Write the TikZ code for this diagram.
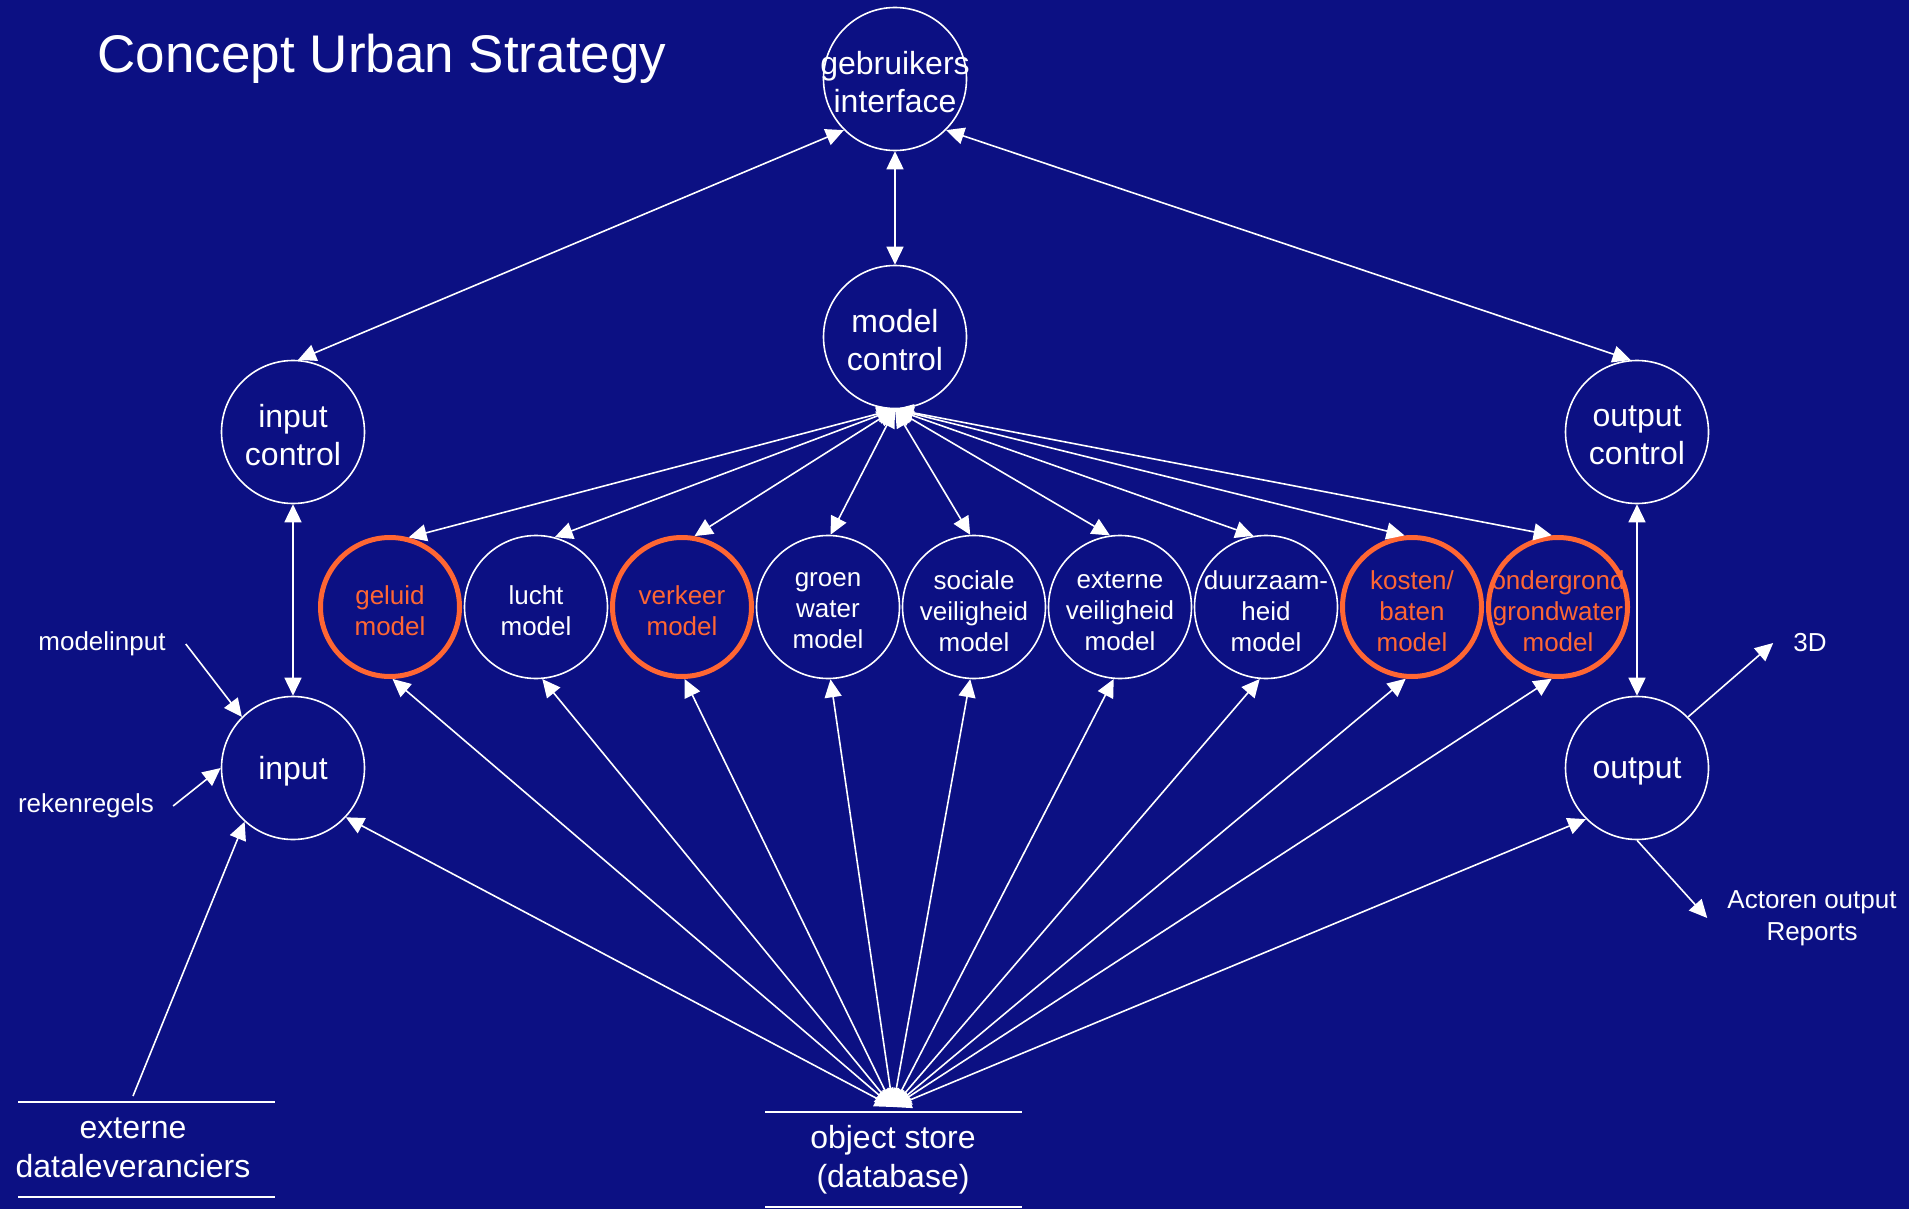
\documentclass[tikz,border=0pt]{standalone}
\usepackage{fontspec}
\setmainfont{Liberation Sans}
\usetikzlibrary{arrows.meta}
\definecolor{bgblue}{RGB}{12,16,131}
\definecolor{hiorange}{RGB}{255,102,51}
\begin{document}
\begin{tikzpicture}[x=1pt,y=-1pt,
  bignode/.style={circle,draw=white,line width=1.6pt,minimum size=143pt,inner sep=0pt},
  bigtext/.style={text=white,align=center,inner sep=0pt,yshift=-3pt,font=\fontsize{32}{38}\selectfont},
  modelnode/.style={circle,draw=white,line width=1.6pt,minimum size=143pt,inner sep=0pt},
  hinode/.style={circle,draw=hiorange,line width=5pt,minimum size=139pt,inner sep=0pt},
  modeltext/.style={text=white,align=center,inner sep=0pt,yshift=-4pt,font=\fontsize{26}{31}\selectfont},
  hitext/.style={modeltext,text=hiorange},
  conn/.style={draw=white,line width=1.6pt,-{Triangle[length=18pt,width=17pt]}},
  biconn/.style={draw=white,line width=1.6pt,{Triangle[length=18pt,width=17pt]}-{Triangle[length=18pt,width=17pt]}},
  lbl/.style={text=white,align=center,font=\fontsize{26}{32}\selectfont,inner sep=0pt},
  biglbl/.style={text=white,align=center,font=\fontsize{32}{39}\selectfont,inner sep=0pt},
  rulestyle/.style={draw=white,line width=2pt}]
\fill[bgblue] (0,0) rectangle (1909,1209);
\useasboundingbox (0,0) rectangle (1909,1209);

\node[text=white,font=\fontsize{53}{60}\selectfont,inner sep=0pt] (title) at (382,59) {Concept Urban Strategy};

\node[bignode,label={[bigtext]center:{gebruikers\\interface}}] (gi) at (895,79) {};
\node[bignode,label={[bigtext]center:{model\\control}}] (mc) at (895,337) {};
\node[bignode,label={[bigtext]center:{input\\control}}] (ic) at (293,432) {};
\node[bignode,label={[bigtext]center:{output\\control}}] (oc) at (1637,432) {};
\node[bignode,label={[bigtext]center:{input}}] (in) at (293,768) {};
\node[bignode,label={[bigtext]center:{output}}] (out) at (1637,768) {};

\node[hinode,label={[hitext]center:{geluid\\model}}] (m1) at (390,607) {};
\node[modelnode,label={[modeltext]center:{lucht\\model}}] (m2) at (536,607) {};
\node[hinode,label={[hitext]center:{verkeer\\model}}] (m3) at (682,607) {};
\node[modelnode,label={[modeltext]center:{groen\\water\\model}}] (m4) at (828,607) {};
\node[modelnode,label={[modeltext]center:{sociale\\veiligheid\\model}}] (m5) at (974,607) {};
\node[modelnode,label={[modeltext]center:{externe\\veiligheid\\model}}] (m6) at (1120,607) {};
\node[modelnode,label={[modeltext]center:{duurzaam-\\heid\\model}}] (m7) at (1266,607) {};
\node[hinode,label={[hitext]center:{kosten/\\baten\\model}}] (m8) at (1412,607) {};
\node[hinode,label={[hitext]center:{ondergrond\\grondwater\\model}}] (m9) at (1558,607) {};

\node[lbl] (mi) at (102,644) {modelinput};
\node[lbl] (rk) at (86,806) {rekenregels};
\node[lbl] (d3) at (1810,643) {3D};
\node[lbl] (act) at (1812,918) {Actoren output\\Reports};

\node[biglbl] (ext) at (133,1148) {externe\\dataleveranciers};
\node[biglbl] (ostxt) at (893,1160) {object store\\(database)};
\draw[rulestyle] (18,1102) -- (275,1102);
\draw[rulestyle] (18,1197) -- (275,1197);
\draw[rulestyle] (765,1112) -- (1022,1112);
\draw[rulestyle] (765,1207) -- (1022,1207);
\coordinate (extp) at (133,1096);
\coordinate (os) at (893,1107);

% top level
\draw[biconn] (gi.225) -- (ic.86);
\draw[biconn] (gi.315) -- (oc.95);
\draw[biconn] (gi.south) -- (mc.north);
\draw[biconn] (ic.south) -- (in.north);
\draw[biconn] (oc.south) -- (out.north);

% model control to models
\draw[biconn] (mc.south) -- (m1.75);
\draw[biconn] (mc.south) -- (m2.75);
\draw[biconn] (mc.south) -- (m3.80);
\draw[biconn] (mc.south) -- (m4.88);
\draw[biconn] (mc.south) -- (m5.93);
\draw[biconn] (mc.south) -- (m6.98);
\draw[biconn] (mc.south) -- (m7.100);
\draw[biconn] (mc.south) -- (m8.96);
\draw[biconn] (mc.south) -- (m9.95);

% object store to models
\draw[biconn] (os) -- (m1.272);
\draw[biconn] (os) -- (m2.275);
\draw[biconn] (os) -- (m3.272);
\draw[biconn] (os) -- (m4.272);
\draw[biconn] (os) -- (m5.267);
\draw[biconn] (os) -- (m6.265);
\draw[biconn] (os) -- (m7.265);
\draw[biconn] (os) -- (m8.265);
\draw[biconn] (os) -- (m9.265);
\draw[biconn] (os) -- (in.317);
\draw[biconn] (os) -- (out.225);

% inputs and outputs
\draw[conn] (extp) -- (in.228);
\draw[conn] ([xshift=20pt]mi.east) -- (in.135);
\draw[conn] ([xshift=19pt]rk.east) -- (in.180);
\draw[conn] (out.45) -- ([xshift=-20pt]d3.west);
\draw[conn] (out.south) -- ([xshift=-20pt]act.west);
\end{tikzpicture}
\end{document}
